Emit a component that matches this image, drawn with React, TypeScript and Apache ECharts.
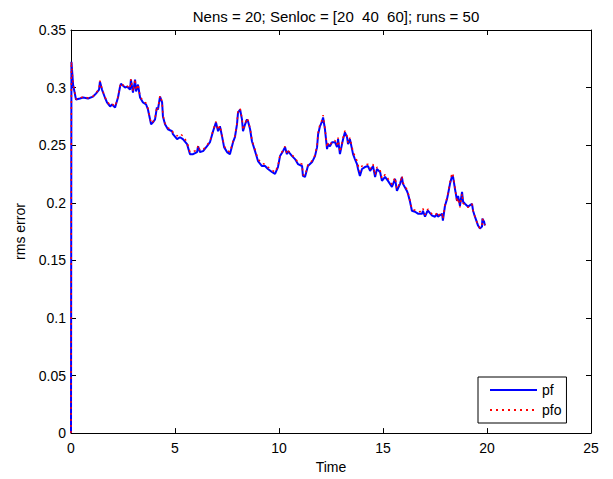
import React, { useEffect, useRef } from "react";
import * as echarts from "echarts";

const titleText = "Nens = 20; Senloc = [20  40  60]; runs = 50";
const xName = "Time";
const yName = "rms error";
const legendNames = ["pf", "pfo"];

const times = [
  0, 0.02, 0.05, 0.1, 0.24, 0.43, 0.58, 0.82, 1.06, 1.2,
  1.35, 1.39, 1.49, 1.63, 1.73, 1.88, 1.97, 2.12, 2.16, 2.26,
  2.36, 2.4, 2.6, 2.69, 2.84, 2.88, 2.98, 3.08, 3.13, 3.22,
  3.32, 3.46, 3.61, 3.7, 3.85, 3.94, 4.04, 4.13, 4.18, 4.28,
  4.38, 4.42, 4.52, 4.66, 4.86, 4.9, 5.1, 5.24, 5.38, 5.58,
  5.72, 5.87, 6.06, 6.11, 6.2, 6.35, 6.54, 6.68, 6.83, 6.97,
  7.07, 7.16, 7.26, 7.36, 7.5, 7.64, 7.79, 7.88, 7.98, 8.03,
  8.13, 8.22, 8.27, 8.37, 8.46, 8.51, 8.61, 8.7, 8.85, 8.99,
  9.18, 9.33, 9.47, 9.66, 9.81, 9.95, 10.05, 10.19, 10.29, 10.38,
  10.43, 10.63, 10.77, 10.91, 11.11, 11.15, 11.25, 11.39, 11.59, 11.73,
  11.83, 11.88, 11.97, 12.07, 12.12, 12.21, 12.31, 12.36, 12.45, 12.55,
  12.69, 12.79, 12.84, 12.93, 13.03, 13.08, 13.17, 13.27, 13.32, 13.41,
  13.51, 13.56, 13.65, 13.75, 13.8, 13.89, 13.99, 14.13, 14.28, 14.38,
  14.52, 14.62, 14.71, 14.86, 14.95, 15.1, 15.24, 15.43, 15.58, 15.67,
  15.82, 15.91, 15.96, 16.15, 16.2, 16.3, 16.39, 16.54, 16.68, 16.88,
  16.92, 17.02, 17.12, 17.16, 17.36, 17.5, 17.6, 17.64, 17.84, 17.88,
  17.98, 18.08, 18.13, 18.22, 18.32, 18.37, 18.46, 18.56, 18.61, 18.7,
  18.8, 18.85, 18.94, 19.09, 19.28, 19.33, 19.42, 19.57, 19.66, 19.76,
  19.78, 19.86, 19.9,
];

const pf = [
  0, 0.3224, 0.3155, 0.3026, 0.2897, 0.2905, 0.2914, 0.2905, 0.2922, 0.2948,
  0.2983, 0.3052, 0.2983, 0.2914, 0.2871, 0.2836, 0.2853, 0.2828, 0.2853, 0.2914,
  0.3009, 0.3034, 0.3, 0.3009, 0.2983, 0.3069, 0.2957, 0.3069, 0.2966, 0.3026,
  0.2914, 0.2871, 0.2853, 0.281, 0.2681, 0.2698, 0.2724, 0.2828, 0.281, 0.2922,
  0.2871, 0.275, 0.2681, 0.2638, 0.2621, 0.2595, 0.2552, 0.2569, 0.2552, 0.2509,
  0.2422, 0.2422, 0.244, 0.2491, 0.244, 0.2448, 0.2491, 0.2526, 0.2621, 0.2698,
  0.2621, 0.2664, 0.2578, 0.2483, 0.244, 0.2422, 0.2526, 0.2569, 0.2681, 0.2784,
  0.281, 0.2724, 0.2621, 0.2681, 0.2724, 0.2707, 0.2638, 0.2534, 0.2448, 0.2362,
  0.2319, 0.2319, 0.2293, 0.2267, 0.225, 0.231, 0.2405, 0.2448, 0.2483, 0.2422,
  0.2448, 0.2405, 0.2379, 0.2336, 0.2319, 0.2233, 0.2224, 0.2319, 0.2353, 0.2405,
  0.2483, 0.2595, 0.2664, 0.2707, 0.2741, 0.2638, 0.2466, 0.2509, 0.2491, 0.2526,
  0.2526, 0.2483, 0.2552, 0.2422, 0.2509, 0.2552, 0.2612, 0.2569, 0.2509, 0.2552,
  0.2466, 0.2422, 0.2379, 0.2336, 0.2293, 0.2233, 0.2293, 0.231, 0.2319, 0.2276,
  0.2319, 0.2224, 0.2293, 0.2267, 0.219, 0.2224, 0.219, 0.2138, 0.2207, 0.2103,
  0.2164, 0.2224, 0.2164, 0.2103, 0.2078, 0.2009, 0.1931, 0.1922, 0.1905, 0.1905,
  0.1931, 0.1879, 0.1922, 0.1931, 0.1888, 0.1879, 0.1905, 0.1879, 0.1905, 0.1845,
  0.1974, 0.2034, 0.2078, 0.2164, 0.2233, 0.2224, 0.2121, 0.2017, 0.206, 0.1974,
  0.2095, 0.2009, 0.1991, 0.1966, 0.1991, 0.1931, 0.1879, 0.1802, 0.1776, 0.1793,
  0.1862, 0.1836, 0.1802,
];

const pfo = [
  0, 0.3224, 0.316, 0.303, 0.29, 0.291, 0.292, 0.291, 0.2925, 0.295,
  0.299, 0.306, 0.299, 0.292, 0.288, 0.285, 0.286, 0.2835, 0.286, 0.292,
  0.3015, 0.304, 0.3005, 0.3015, 0.299, 0.3075, 0.2965, 0.3075, 0.2975, 0.303,
  0.2925, 0.2885, 0.2865, 0.282, 0.269, 0.2705, 0.273, 0.2835, 0.2815, 0.293,
  0.288, 0.276, 0.269, 0.265, 0.263, 0.261, 0.258, 0.26, 0.258, 0.2525,
  0.244, 0.2445, 0.2455, 0.25, 0.2455, 0.246, 0.25, 0.2535, 0.263, 0.2705,
  0.263, 0.267, 0.259, 0.2495, 0.2455, 0.244, 0.2535, 0.258, 0.269, 0.28,
  0.282, 0.2735, 0.263, 0.269, 0.2735, 0.2715, 0.265, 0.2545, 0.246, 0.238,
  0.234, 0.2335, 0.231, 0.2285, 0.2265, 0.232, 0.2415, 0.2455, 0.249, 0.243,
  0.2455, 0.2415, 0.239, 0.235, 0.2335, 0.2245, 0.2235, 0.233, 0.2365, 0.2415,
  0.2495, 0.261, 0.268, 0.272, 0.276, 0.265, 0.248, 0.252, 0.25, 0.2535,
  0.254, 0.25, 0.2565, 0.244, 0.252, 0.2565, 0.2625, 0.258, 0.252, 0.2565,
  0.2485, 0.2445, 0.2405, 0.2365, 0.2325, 0.227, 0.232, 0.233, 0.2335, 0.2295,
  0.2335, 0.224, 0.231, 0.2285, 0.221, 0.2245, 0.221, 0.216, 0.222, 0.212,
  0.2175, 0.2235, 0.2175, 0.2115, 0.209, 0.202, 0.1945, 0.1935, 0.192, 0.1925,
  0.195, 0.1895, 0.1935, 0.1945, 0.19, 0.189, 0.1915, 0.189, 0.1915, 0.186,
  0.1985, 0.2045, 0.209, 0.218, 0.226, 0.224, 0.2135, 0.2, 0.204, 0.196,
  0.208, 0.1995, 0.1985, 0.196, 0.199, 0.193, 0.188, 0.1805, 0.178, 0.1795,
  0.186, 0.1835, 0.1805,
];

const xMin = 0;
const xMax = 25;
const xStep = 5;
const yMin = 0;
const yMax = 0.35;
const yStep = 0.05;

export default function App() {
  const ref = useRef<HTMLDivElement>(null);
  useEffect(() => {
    if (!ref.current) return;
    const chart = echarts.init(ref.current, null, { renderer: "svg" });
    const font = "'Liberation Sans', Arial, Helvetica, sans-serif";
    const fs = 14;
    const axisLine = { show: true, onZero: false, lineStyle: { color: "#000", width: 1 } };
    const tick = { show: true, inside: true, length: 5, lineStyle: { color: "#000", width: 1 } };
    chart.setOption({
      animation: false,
      backgroundColor: "#fff",
      textStyle: { fontFamily: font },
      title: {
        text: titleText,
        left: 331,
        top: 4,
        textAlign: "center",
        textStyle: { fontFamily: font, fontSize: 15, fontWeight: "normal", color: "#000" },
      },
      grid: { left: 71, right: 22, top: 30, bottom: 43, containLabel: false },
      legend: {
        data: legendNames,
        orient: "vertical",
        left: 478,
        top: 377,
        itemWidth: 47,
        itemHeight: 10,
        itemGap: 6,
        padding: [6, 5, 6, 11],
        borderColor: "#000",
        borderWidth: 1,
        backgroundColor: "#fff",
        itemStyle: { opacity: 0 },
        textStyle: { fontFamily: font, fontSize: fs, color: "#000" },
      },
      xAxis: [
        {
          type: "value",
          min: xMin,
          max: xMax,
          interval: xStep,
          position: "bottom",
          name: xName,
          nameLocation: "middle",
          nameGap: 24,
          nameTextStyle: { fontFamily: font, fontSize: fs, color: "#000" },
          axisLine,
          axisTick: tick,
          axisLabel: { color: "#000", fontSize: fs, fontFamily: font, margin: 8 },
          splitLine: { show: false },
        },
        {
          type: "value",
          min: xMin,
          max: xMax,
          interval: xStep,
          position: "top",
          axisLine,
          axisTick: tick,
          axisLabel: { show: false },
          splitLine: { show: false },
        },
      ],
      yAxis: [
        {
          type: "value",
          min: yMin,
          max: yMax,
          interval: yStep,
          position: "left",
          name: yName,
          nameLocation: "middle",
          nameGap: 44,
          nameTextStyle: { fontFamily: font, fontSize: fs, color: "#000" },
          axisLine,
          axisTick: tick,
          axisLabel: { color: "#000", fontSize: fs, fontFamily: font, margin: 5 },
          splitLine: { show: false },
        },
        {
          type: "value",
          min: yMin,
          max: yMax,
          interval: yStep,
          position: "right",
          axisLine,
          axisTick: tick,
          axisLabel: { show: false },
          splitLine: { show: false },
        },
      ],
      series: [
        {
          name: legendNames[0],
          type: "line",
          data: times.map((t, i) => [t, pf[i]]),
          showSymbol: false,
          symbol: "none",
          lineStyle: { color: "#0000ff", width: 2 },
          itemStyle: { color: "#0000ff" },
          z: 2,
        },
        {
          name: legendNames[1],
          type: "line",
          data: times.map((t, i) => [t, pfo[i]]),
          showSymbol: false,
          symbol: "none",
          lineStyle: { color: "#ff0000", width: 1.5, type: [2, 4] },
          itemStyle: { color: "#ff0000" },
          z: 3,
        },
      ],
    });
    return () => chart.dispose();
  }, []);
  return <div ref={ref} style={{ width: 613, height: 479, position: "absolute", left: 0, top: 0 }} />;
}
